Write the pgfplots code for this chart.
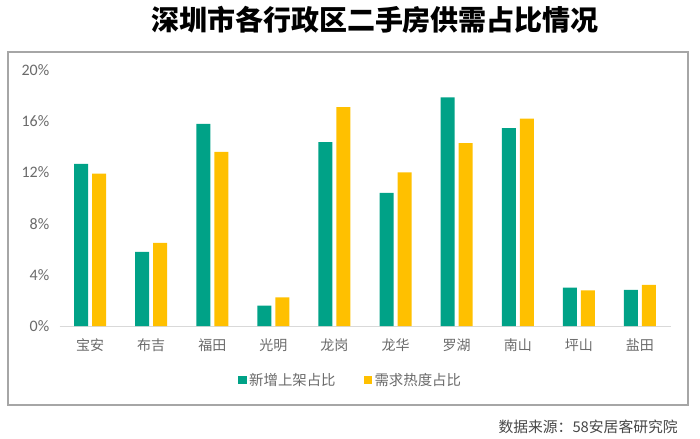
\documentclass[border=0pt]{standalone}
\usepackage{pgfplots}
\pgfplotsset{compat=1.18}
\usepackage{fontspec}
\setmainfont{Noto Sans CJK SC}
\newfontfamily\tickfont{Carlito}
\definecolor{cgreen}{HTML}{00A287}
\definecolor{cyellow}{HTML}{FFC000}
\definecolor{tgray}{HTML}{6A6A6A}
\definecolor{fgray}{HTML}{A6A6A6}
\pgfplotsset{sqlegend/.style={legend image code/.code={\fill[##1] (0pt,-3.1pt) rectangle (6.2pt,3.1pt);}}}
\begin{document}
\begin{tikzpicture}
\path[use as bounding box] (0pt,0pt) rectangle (525pt,-329.25pt);
\draw[fgray, line width=1pt] (6pt,-39pt) rectangle (516pt,-303.75pt);
\node[anchor=base, inner sep=0pt, font=\fontsize{21}{24}\selectfont\bfseries] at (281.25pt,-22.8pt) {深圳市各行政区二手房供需占比情况};
\node[anchor=base east, inner sep=0pt, font=\fontsize{11.1}{13}\selectfont, text=black!72] at (508.5pt,-324.4pt) {数据来源：58安居客研究院};
\begin{axis}[at={(44.625pt,-244.5pt)}, anchor=south west, scale only axis,
  width=458.25pt, height=192pt,
  xmin=-0.5, xmax=9.5, ymin=0, ymax=20,
  ybar, bar width=10.5pt,
  axis x line*=bottom, axis y line*=left,
  x axis line style={draw=black!15, line width=0.75pt},
  y axis line style={draw=none},
  major tick length=0,
  xtick={0,1,2,3,4,5,6,7,8,9},
  xticklabels={宝安,布吉,福田,光明,龙岗,龙华,罗湖,南山,坪山,盐田},
  ytick={0,4,8,12,16,20},
  yticklabels={0\%,4\%,8\%,12\%,16\%,20\%},
  xticklabel style={font=\fontsize{10.5}{12}\selectfont, text=tgray, anchor=base, yshift=-18pt},
  yticklabel style={font=\tickfont\fontsize{12}{14}\selectfont, text=tgray, anchor=east, inner sep=0pt, xshift=-7.5pt},
  legend style={at={(0.477,-0.211)}, anchor=center, draw=none, fill=none,
    font=\fontsize{10.8}{13}\selectfont, text=tgray,
    /tikz/every even column/.append style={column sep=19pt}},
  legend columns=2,
]
\addplot[fill=cgreen, draw=none, bar shift=-6.75pt, sqlegend] coordinates {
(0,12.67) (1,5.8) (2,15.8) (3,1.6) (4,14.36) (5,10.4) (6,17.87) (7,15.45) (8,3.0) (9,2.83)};
\addplot[fill=cyellow, draw=none, bar shift=6.75pt, sqlegend] coordinates {
(0,11.9) (1,6.5) (2,13.6) (3,2.24) (4,17.1) (5,12.0) (6,14.28) (7,16.2) (8,2.78) (9,3.22)};
\legend{新增上架占比,需求热度占比}
\end{axis}
\end{tikzpicture}
\end{document}
